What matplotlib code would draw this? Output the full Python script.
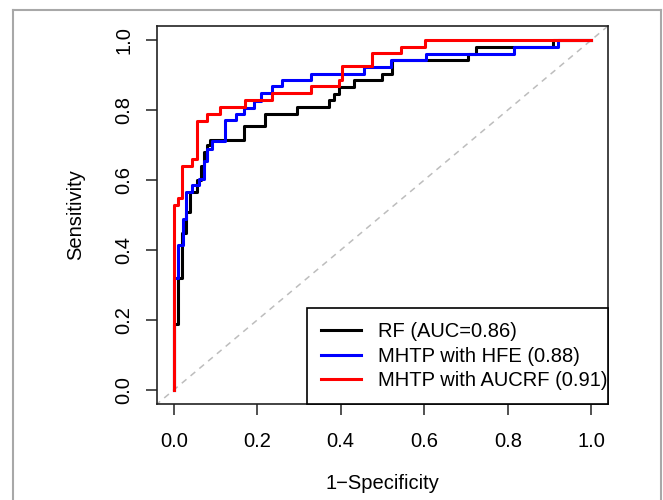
import matplotlib
matplotlib.use("Agg")
import numpy as np
import matplotlib.pyplot as plt
from matplotlib.lines import Line2D

plt.rcParams['font.family'] = ['Liberation Sans', 'DejaVu Sans']

# ROC corner points (1-specificity, sensitivity)
rf_fpr = [0, 0, 0.01, 0.02, 0.03, 0.04, 0.055, 0.065, 0.072, 0.08, 0.088,
          0.168, 0.218, 0.296, 0.372, 0.384, 0.396, 0.432, 0.498, 0.522,
          0.522, 0.704, 0.724, 0.908, 1.0]
rf_tpr = [0, 0.19, 0.32, 0.45, 0.51, 0.565, 0.60, 0.64, 0.68, 0.70, 0.715,
          0.755, 0.79, 0.81, 0.83, 0.847, 0.866, 0.885, 0.904, 0.923,
          0.942, 0.961, 0.98, 1.0, 1.0]

hfe_fpr = [0, 0, 0.01, 0.022, 0.03, 0.044, 0.06, 0.072, 0.08, 0.092, 0.124,
           0.148, 0.168, 0.192, 0.21, 0.236, 0.26, 0.328, 0.456, 0.52,
           0.604, 0.816, 0.92, 1.0]
hfe_tpr = [0, 0.32, 0.415, 0.49, 0.565, 0.585, 0.603, 0.655, 0.69, 0.712,
           0.771, 0.79, 0.807, 0.826, 0.848, 0.869, 0.885, 0.904, 0.923,
           0.942, 0.961, 0.98, 1.0, 1.0]

aucrf_fpr = [0, 0, 0.01, 0.02, 0.044, 0.056, 0.08, 0.112, 0.17, 0.236,
             0.328, 0.396, 0.404, 0.476, 0.544, 0.602, 1.0]
aucrf_tpr = [0, 0.53, 0.55, 0.64, 0.66, 0.77, 0.79, 0.81, 0.83, 0.85,
             0.87, 0.885, 0.925, 0.963, 0.981, 1.0, 1.0]

labels = ["RF (AUC=0.86)", "MHTP with HFE (0.88)", "MHTP with AUCRF (0.91)"]
colors = ["black", "blue", "red"]
ticks = [0.0, 0.2, 0.4, 0.6, 0.8, 1.0]

FS = 14.5


def main():
    fig = plt.figure(figsize=(6.63, 5.0), dpi=100)
    ax = fig.add_axes([157 / 663, 96 / 500, 451 / 663, 378 / 500])

    # chance line
    ax.plot([-1, 2], [-1, 2], color="#bdbdbd", lw=1.1, ls=(0, (4, 3.5)))

    curves = [(rf_fpr, rf_tpr), (hfe_fpr, hfe_tpr), (aucrf_fpr, aucrf_tpr)]
    for (x, y), c, lab in zip(curves, colors, labels):
        ax.plot(x, y, color=c, lw=2.2, drawstyle="steps-post", label=lab)

    ax.set_xlim(-0.04, 1.04)
    ax.set_ylim(-0.04, 1.04)
    ax.set_xticks(ticks)
    ax.set_yticks(ticks)
    ax.set_xticklabels(["%.1f" % t for t in ticks])
    ax.set_yticklabels(["%.1f" % t for t in ticks], rotation=90, va="center")
    ax.tick_params(length=8, width=1.1, color="#222222", labelsize=FS)
    ax.tick_params(axis="x", pad=12)
    ax.tick_params(axis="y", pad=9)

    for s in ax.spines.values():
        s.set_color("#222222")
        s.set_linewidth(1.2)

    ax.set_xlabel("1\u2212Specificity", fontsize=FS, labelpad=17)
    ax.set_ylabel("Sensitivity", fontsize=FS, labelpad=21)

    # legend box sits in the bottom-right corner, 301 px wide
    w = 301 / 451
    leg = ax.legend(loc="lower right", bbox_to_anchor=(1 - w, 0, w, 0.5),
                    mode="expand", borderaxespad=0, fontsize=FS,
                    fancybox=False, edgecolor="black", framealpha=1,
                    handlelength=2.0, handletextpad=0.85, borderpad=0.7,
                    labelspacing=0.26)
    leg.get_frame().set_linewidth(1.2)

    # light grey frame around the panel
    fx0, fx1, fy = 13 / 663, 661 / 663, 0.98
    for xs, ys in [([fx0, fx0], [0, fy]), ([fx0, fx1], [fy, fy]), ([fx1, fx1], [0, fy])]:
        fig.add_artist(Line2D(xs, ys, transform=fig.transFigure,
                              color="#a8a8a8", lw=1.5))

    fig.savefig("out.png", dpi=100)


if __name__ == "__main__":
    main()
